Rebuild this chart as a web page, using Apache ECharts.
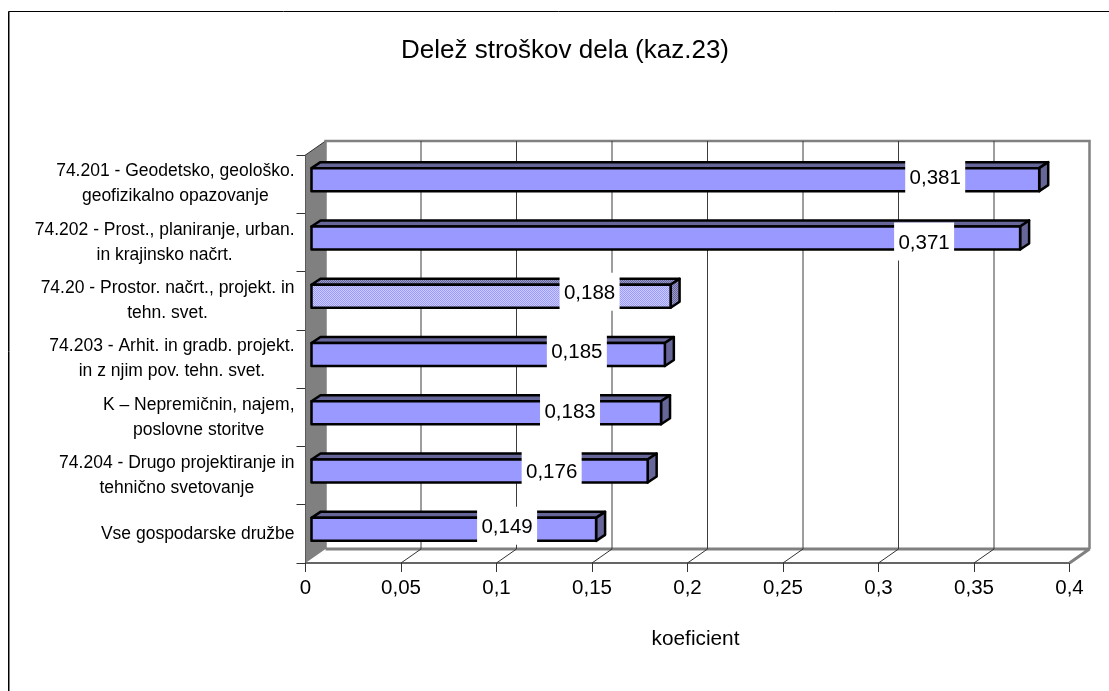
<!DOCTYPE html>
<html>
<head>
<meta charset="utf-8">
<style>
  html, body { margin: 0; padding: 0; background: #fff; }
  #chart { width: 1109px; height: 691px; }
</style>
<script src="https://cdn.jsdelivr.net/npm/echarts@6/dist/echarts.min.js"></script>
</head>
<body>
<div id="chart"></div>
<script>
// podatki
const categories = [
  '74.201 - Geodetsko, geološko.\ngeofizikalno opazovanje',
  '74.202 - Prost., planiranje, urban.\nin krajinsko načrt.',
  '74.20 - Prostor. načrt., projekt. in\ntehn. svet.',
  '74.203 - Arhit. in gradb. projekt.\nin z njim pov. tehn. svet.',
  'K – Nepremičnin, najem,\nposlovne storitve',
  '74.204 - Drugo projektiranje in\ntehnično svetovanje',
  'Vse gospodarske družbe'
];
const values = [0.381, 0.371, 0.188, 0.185, 0.183, 0.176, 0.149];
const tickValues = [0, 0.05, 0.1, 0.15, 0.2, 0.25, 0.3, 0.35, 0.4];
const highlighted = '74.20 - Prostor. načrt., projekt. in\ntehn. svet.';
// odmik oznake od konca stolpca in od sredine pasu (px)
const labelInset = [104, 96, 81, 88, 91, 96, 89];
const labelRaise = [7, 1, 9, 8, 6, 5, 8];

const FONT = '"Liberation Sans", Arial, sans-serif';
const DEPTH_X = 20, DEPTH_Y = 14;    // globina 3D ozadja
const BAR_X = 9, BAR_Y = 6;          // globina stolpca
const BAR_OFFSET = 6;                // odmik stolpca od osi
const BAR_RAISE = 4.5;

function comma(v) {
  return String(v).replace('.', ',');
}

// rastrski vzorec za izpostavljeni stolpec
function makeDither(a, b) {
  let c = document.createElement('canvas');
  c.width = 2; c.height = 2;
  let ctx = c.getContext('2d');
  ctx.fillStyle = a; ctx.fillRect(0, 0, 2, 2);
  ctx.fillStyle = b; ctx.fillRect(0, 0, 1, 1); ctx.fillRect(1, 1, 1, 1);
  return { image: c, repeat: 'repeat' };
}

let myChart = echarts.init(document.getElementById('chart'));

function renderWalls(params, api) {
  let x0 = api.coord([0, 0])[0];
  let x1 = api.coord([0.4, 0])[0];
  let rect = params.coordSys;
  let top = rect.y, bottom = rect.y + rect.height;
  let children = [
    { type: 'polygon', shape: { points: [[x0, top], [x0 + DEPTH_X, top - DEPTH_Y], [x0 + DEPTH_X, bottom - DEPTH_Y], [x0, bottom]] },
      style: { fill: '#808080', stroke: null } },
    { type: 'line', shape: { x1: x0, y1: top, x2: x0 + DEPTH_X, y2: top - DEPTH_Y },
      style: { stroke: '#333', lineWidth: 1 } },
    { type: 'polyline', shape: { points: [[x0 + DEPTH_X, bottom - DEPTH_Y], [x0 + DEPTH_X, top - DEPTH_Y], [x1 + DEPTH_X, top - DEPTH_Y], [x1 + DEPTH_X, bottom - DEPTH_Y]] },
      style: { fill: null, stroke: '#808080', lineWidth: 2.5 } },
    { type: 'polyline', shape: { points: [[x0 + DEPTH_X, bottom - DEPTH_Y], [x1 + DEPTH_X, bottom - DEPTH_Y], [x1, bottom]] },
      style: { fill: null, stroke: '#808080', lineWidth: 3, lineJoin: 'bevel' } }
  ];
  tickValues.forEach(function (t, i) {
    if (i === 0) return;
    let x = api.coord([t, 0])[0];
    if (i < tickValues.length - 1) {
      children.push({ type: 'line', shape: { x1: x + DEPTH_X, y1: top - DEPTH_Y, x2: x + DEPTH_X, y2: bottom - DEPTH_Y },
        style: { stroke: '#3c3c3c', lineWidth: 1 } });
      children.push({ type: 'line', shape: { x1: x, y1: bottom, x2: x + DEPTH_X, y2: bottom - DEPTH_Y },
        style: { stroke: '#333', lineWidth: 1 } });
    }
  });
  return { type: 'group', children: children };
}

function renderBar(params, api) {
  let value = api.value(0);
  let idx = api.value(1);
  let end = api.coord([value, idx]);
  let start = api.coord([0, idx]);
  let h = 23;
  let xa = start[0] + BAR_OFFSET, xb = end[0] + BAR_OFFSET;
  let y = end[1] - h / 2 - BAR_RAISE;
  let special = categories[idx] === highlighted;
  let front = special ? makeDither('#ccccff', '#9999ff') : '#9999ff';
  let shade = special ? makeDither('#9999cc', '#666699') : '#666699';
  let edge = { stroke: '#000', lineWidth: 2.5, lineJoin: 'round' };
  let labelX = xb - labelInset[idx];
  let labelY = end[1] - labelRaise[idx];
  return {
    type: 'group',
    children: [
      { type: 'polygon', shape: { points: [[xa, y], [xa + BAR_X, y - BAR_Y], [xb + BAR_X, y - BAR_Y], [xb, y]] },
        style: Object.assign({ fill: shade }, edge) },
      { type: 'polygon', shape: { points: [[xb, y], [xb + BAR_X, y - BAR_Y], [xb + BAR_X, y + h - BAR_Y], [xb, y + h]] },
        style: Object.assign({ fill: shade }, edge) },
      { type: 'rect', shape: { x: xa, y: y, width: xb - xa, height: h },
        style: Object.assign({ fill: front }, edge) },
      { type: 'rect', shape: { x: labelX - 30, y: labelY - 19, width: 60, height: 38 },
        style: { fill: '#fff' } },
      { type: 'text', x: labelX, y: labelY + 1.5,
        style: { text: comma(value), fill: '#000', font: '20.5px ' + FONT, align: 'center', verticalAlign: 'middle' } }
    ]
  };
}

let option = {
  backgroundColor: '#fff',
  animation: false,
  title: {
    text: 'Delež stroškov dela (kaz.23)',
    left: 560, top: 33, textAlign: 'center',
    textStyle: { fontFamily: FONT, fontSize: 26, fontWeight: 'normal', color: '#000' }
  },
  grid: { left: 305.5, top: 155, width: 764, height: 408 },
  xAxis: {
    type: 'value', min: 0, max: 0.4, interval: 0.05,
    name: 'koeficient', nameLocation: 'middle', nameGap: 66,
    nameTextStyle: { fontFamily: FONT, fontSize: 20.8, color: '#000', padding: [0, 0, 0, 16] },
    axisLine: { show: true, lineStyle: { color: '#333', width: 1.5 } },
    axisTick: { show: true, length: 9, lineStyle: { color: '#333' } },
    axisLabel: { fontFamily: FONT, fontSize: 20.5, color: '#000', margin: 15, formatter: comma, hideOverlap: false },
    splitLine: { show: false }
  },
  yAxis: {
    type: 'category', inverse: true, data: categories,
    axisLine: { show: true, onZero: false, lineStyle: { color: '#333', width: 1 } },
    axisTick: { show: true, length: 9, alignWithLabel: false, lineStyle: { color: '#333' } },
    axisLabel: {
      interval: 0, margin: 11, align: 'right',
      fontFamily: FONT, fontSize: 17.5, color: '#000', lineHeight: 25,
      formatter: function (v) {
        return v.split('\n').map(function (l) { return '{c|' + l + '}'; }).join('\n');
      },
      rich: { c: { align: 'center', fontFamily: FONT, fontSize: 17.5, color: '#000', lineHeight: 25 } }
    }
  },
  series: [
    {
      type: 'custom', silent: true, z: 1, clip: false,
      coordinateSystem: 'cartesian2d',
      renderItem: renderWalls,
      data: [[0, 0]]
    },
    {
      type: 'custom', silent: true, z: 3, clip: false,
      coordinateSystem: 'cartesian2d',
      renderItem: renderBar,
      encode: { x: 0, y: 1 },
      data: values.map(function (v, i) { return [v, i]; })
    }
  ],
  graphic: [
    { type: 'polyline', silent: true, z: 10,
      shape: { points: [[8.5, 691], [8.5, 11.5], [1109, 11.5]] },
      style: { fill: null, stroke: '#000', lineWidth: 1 } },
    { type: 'line', silent: true, z: 10,
      shape: { x1: 9.5, y1: 12, x2: 9.5, y2: 691 },
      style: { stroke: '#808080', lineWidth: 1 } }
  ]
};
myChart.setOption(option);
</script>
</body>
</html>
